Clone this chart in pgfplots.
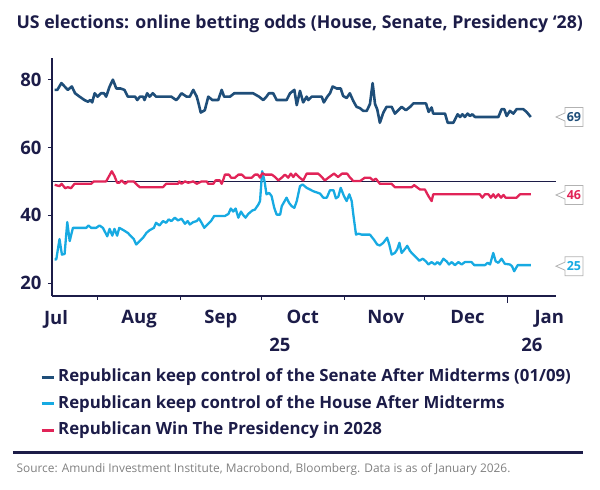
\documentclass[border=0pt]{standalone}
\usepackage{fontspec}
\setmainfont{Open Sans}
\usepackage{pgfplots}
\pgfplotsset{compat=1.18}
\usetikzlibrary{shapes.callouts}

\definecolor{textcol}{RGB}{28,28,72}
\definecolor{senate}{RGB}{31,78,121}
\definecolor{house}{RGB}{23,170,226}
\definecolor{pres}{RGB}{225,36,88}

\begin{document}
\begin{tikzpicture}
% x = days since 1 Jul 2025
\begin{axis}[
  scale only axis, width=504pt, height=238pt,
  xmin=14, xmax=202, ymin=16.2, ymax=86.4,
  axis x line=bottom, axis y line=left,
  axis line style={-, textcol, line width=1.3pt},
  clip=false,
  /pgf/number format/assume math mode=true,
  ytick={20,40,60,80},
  tick align=outside, major tick length=4pt,
  ytick style={textcol, line width=1pt},
  xtick={15.5,46.5,77,107.5,138.5,169,199.5},
  xticklabels={Jul,Aug,Sep,Oct,Nov,Dec,Jan},
  xtick style={draw=none},
  ticklabel style={font=\fontsize{18.5}{22}\selectfont\bfseries, text=textcol},
  xticklabel style={yshift=-7pt},
  yticklabel style={xshift=-3pt},
  legend style={at={(-0.0238,-0.307)}, anchor=north west, draw=none, fill=none,
    inner sep=0pt, font=\fontsize{16.8}{20}\selectfont\bfseries, text=textcol,
    row sep=10.5pt, column sep=3pt,
    nodes={inner sep=0pt, text height=12.5pt, text depth=3.5pt}},
  legend cell align=left,
  legend image code/.code={\draw[#1, line width=3pt] (0pt,0pt) -- (12pt,0pt);},
]
\draw[textcol, line width=1pt] (axis cs:14,50) -- (axis cs:202,50);

\addplot[senate, line width=2.6pt, line join=round] coordinates {
(15,77) (16,77) (17.5,79) (18.7,78) (19.9,77) (21.4,78) (22.6,76) (24.3,75)
(26.1,74) (27.4,73.5) (28.3,74) (29,73.3) (29.9,76) (31,75) (32.3,76) (33.4,76)
(34.2,75) (35.5,78) (36.7,80) (38,77.4) (39.6,77.4) (41,77) (42.3,75) (45,75)
(45.8,74) (46.8,75) (48,75) (48.5,74) (49.5,76) (50.4,75) (51.6,76) (52.8,75)
(58.5,75) (60.3,74) (61,74.5) (62.3,76) (64.2,75) (65.4,75) (66.7,77) (68,75)
(68.5,73.5) (69.5,70.3) (71,71) (72.3,75) (73.8,74) (76,74) (77.3,77) (78.2,75)
(80.4,75) (82,76) (89,76) (91.2,75) (92.8,74) (94,75) (94.9,76) (96.5,76)
(97.8,74) (101.5,74) (102.8,76) (104.4,77) (105.3,72.5) (106.5,76.7) (107.7,73.3)
(109,75) (109.6,74) (110.9,75) (114.6,75) (115.4,73.3) (116.7,75) (117.7,76)
(118.7,78) (120.2,77.4) (121.7,77.4) (122.6,75.2) (123.9,74.6) (125.1,76)
(126.4,73.7) (127.6,72) (128.9,71.6) (130.1,70.8) (131.4,70.8) (132.6,72.8)
(133.6,79) (134.5,72.8) (135.3,71.3) (136.3,67.3) (137.6,70.3) (138.8,72)
(140.7,72) (141.9,70) (143.2,71) (144.4,72) (146,71) (147.6,72) (148.8,73)
(153.5,73) (154.5,70.5) (155.6,71.8) (156.2,70) (160.6,70) (161.6,67.3)
(163.7,67.3) (165.3,69.8) (166.2,69) (167.1,69.8) (168,69) (169,70) (169.9,69.3)
(170.8,69.8) (171.8,69) (180.5,69) (181.7,71.3) (182.7,71.3) (183.6,69.3)
(184.8,70.8) (186.1,70) (187.3,71.3) (189.8,71.3) (191,70.5) (192.6,69)
};
\addlegendentry{Republican keep control of the Senate After Midterms (01/09)}

\addplot[house, line width=2.3pt, line join=round] coordinates {
(15,27) (15.6,27) (16.8,33) (17.7,28.4) (18.7,28.6) (19.7,38) (20.6,32.4)
(21.8,36.3) (26.8,36.3) (27.6,37) (28.6,36.3) (30.5,36.3) (31.7,37) (33,36.3)
(34.6,33.8) (35.5,36) (36.5,34) (37.3,36) (38.3,34) (39.1,36.3) (40.7,35.6)
(42.3,34.8) (43.5,33.8) (44.5,33) (45.4,31.4) (46.7,32.4) (48,33.4) (49.2,34.8)
(50.4,35.6) (52,36.3) (52.8,37.8) (54.1,37) (55.4,38.3) (56.6,37.8) (57.5,38.8)
(58.5,38.3) (59.8,39.3) (61,38.5) (62.3,39) (63.6,37.5) (64.6,38.3) (65.4,37.3)
(66.7,38) (68,38.3) (68.8,39.1) (69.8,37.8) (70.8,36.3) (72,37.3) (73.3,38.3)
(74.5,39.8) (78.5,39.8) (79.8,40.4) (80.7,42) (81.6,41.1) (82.5,42) (83.5,39.3)
(84.5,41.1) (85.3,40.1) (86.2,39.3) (87.2,40.4) (88.7,41.4) (89.7,41.7) (91,43.2)
(91.6,44.2) (92.4,53) (93.3,50) (94,46.2) (95,46.6) (95.9,45.7) (96.9,42.2)
(97.8,40.2) (99.1,40.2) (99.7,42.7) (101.5,45.2) (102.4,43.7) (103.4,42.7)
(104.4,42.2) (105.3,44.2) (106.5,48.6) (107.5,49.1) (109,48.1) (111.5,47.1)
(114,46.4) (115.2,45.2) (116.5,45.2) (117.7,47.4) (119,47.4) (119.9,45)
(120.8,45.5) (121.7,48.1) (122.9,45.7) (123.9,44.2) (124.9,46.2) (125.8,44.2)
(126.4,40.2) (127.4,34.3) (128.3,34.6) (129.5,34.3) (132.6,34.3) (134.1,32.8)
(135.3,31.4) (136.3,31.1) (137.6,31.9) (139,33.4) (139.8,31.4) (140.7,28.4)
(141.9,28.9) (142.8,30) (143.6,31.9) (144.4,28.9) (145.6,30) (146.5,31)
(147.6,29.4) (148.8,28.4) (150.1,27.4) (151,26.6) (152.3,27.2) (153.5,26.4)
(154.4,25.5) (155.6,26.2) (156.8,25.5) (157.8,26.2) (158.7,25.5) (160,27.2)
(161.2,26.4) (162.1,25.5) (163.1,26.2) (164.3,25.3) (165.6,26.2) (166.8,25.5)
(168,26.2) (170.5,26.2) (171.5,25.3) (175.5,25.3) (176.5,26) (177.4,25.5)
(178.6,28.9) (179.5,26.4) (180.5,26) (181.7,27.2) (182.9,25.7) (184.8,25.5)
(185.6,25) (186.4,23.5) (187.7,25.3) (192.6,25.3)
};
\addlegendentry{Republican keep control of the House After Midterms}

\addplot[pres, line width=2.3pt, line join=round] coordinates {
(15,49) (16.8,48.6) (17.6,49.3) (18.9,48) (19.9,48.3) (21.1,48) (22.4,49.3)
(28.6,49.3) (29.6,50) (34.2,50) (35.1,51.3) (36.3,53) (37.3,51.6) (38.3,49.6)
(39.1,49.6) (40,50.3) (41.3,49.3) (42.3,50) (44.5,50) (45.3,49.3) (46.7,48.3)
(55.4,48.3) (56.6,49.3) (61,49.3) (61.5,50) (62.3,49.3) (63.6,50) (64.8,49.6)
(66.7,50) (68,49.3) (69.8,50) (71.7,50) (72.3,49.3) (74.2,49.3) (75,50.3)
(76.6,50.3) (77.3,49.3) (77.9,50.5) (78.5,52) (80,52) (80.8,51.1) (82.3,51.1)
(83.5,52) (84.8,52) (86,51.1) (88.5,51.1) (89.7,52) (90.8,52) (91.6,51.1)
(92.4,52.4) (93.5,52) (96,52) (97.2,51.3) (98.4,50.3) (99.7,51.1) (100.9,52)
(102.1,51.1) (103.1,52.3) (104,51.3) (104.9,52.3) (106.1,51.3) (107.7,50.3)
(109,52.3) (113.3,52.3) (114.6,51.3) (115.8,50.3) (117.1,51.1) (119.2,52.3)
(120.7,51.3) (122.2,52.3) (124.1,52.3) (125,51.3) (126.4,50.1) (128.9,50.1)
(130.7,51.1) (132.6,51.1) (133.8,50.3) (134.8,50.8) (136.3,49.3) (140.7,49.3)
(141.9,48.3) (148.2,48.3) (149.1,48.9) (150.1,48.3) (151.3,47.6) (153.1,47.6)
(154.4,45.7) (155.6,44.2) (156.2,46.2) (173.6,46.2) (174.5,45.2) (175.5,46.2)
(176.8,46.2) (177.7,45.2) (178.6,46.2) (179.4,45.2) (180.5,46.2) (181.5,45.2)
(182.4,46) (183.2,45.2) (187.3,45.2) (188.6,46.2) (192.6,46.2)
};
\addlegendentry{Republican Win The Presidency in 2028}

% month boundary ticks
\draw[textcol, line width=1pt] (axis cs:31,16.2) -- ++(0pt,-4pt);
\draw[textcol, line width=1pt] (axis cs:62,16.2) -- ++(0pt,-4pt);
\draw[textcol, line width=1pt] (axis cs:92,16.2) -- ++(0pt,-4pt);
\draw[textcol, line width=1pt] (axis cs:123,16.2) -- ++(0pt,-4pt);
\draw[textcol, line width=1pt] (axis cs:153,16.2) -- ++(0pt,-4pt);
\draw[textcol, line width=1pt] (axis cs:184,16.2) -- ++(0pt,-7pt);

% year labels
\node[font=\fontsize{18.5}{22}\selectfont\bfseries, text=textcol] at (axis cs:99,16.2) [yshift=-48.5pt] {25};
\node[font=\fontsize{18.5}{22}\selectfont\bfseries, text=textcol] at (axis cs:193,16.2) [yshift=-48.5pt] {26};

% last-value callouts
\node[rectangle callout, draw=gray!60, fill=white, line width=0.8pt,
  callout relative pointer={(-9pt,0pt)}, callout pointer width=8pt,
  font=\fontsize{12.5}{14}\selectfont\bfseries, text=senate, inner sep=1.5pt,
  minimum height=19pt, minimum width=18pt] at (axis cs:208.7,69) {69};
\node[rectangle callout, draw=gray!60, fill=white, line width=0.8pt,
  callout relative pointer={(-9pt,0pt)}, callout pointer width=8pt,
  font=\fontsize{12.5}{14}\selectfont\bfseries, text=pres, inner sep=1.5pt,
  minimum height=19pt, minimum width=18pt] at (axis cs:208.7,46) {46};
\node[rectangle callout, draw=gray!60, fill=white, line width=0.8pt,
  callout relative pointer={(-9pt,0pt)}, callout pointer width=8pt,
  font=\fontsize{12.5}{14}\selectfont\bfseries, text=house, inner sep=1.5pt,
  minimum height=19pt, minimum width=18pt] at (axis cs:208.7,25) {25};
\end{axis}

\node[anchor=base west, font=\fontsize{17.7}{21}\selectfont\bfseries, text=textcol]
  at (-39pt,267pt) {US elections: online betting odds (House, Senate, Presidency ‘28)};
\draw[textcol, line width=3pt] (-39pt,-156pt) -- (531pt,-156pt);
\node[anchor=base west, font=\fontsize{11.9}{14}\selectfont, text=gray]
  at (-39pt,-176pt) {Source: Amundi Investment Institute, Macrobond, Bloomberg. Data is as of January 2026.};
\path (-52pt,-194pt) rectangle (548pt,296pt);
\end{tikzpicture}
\end{document}
